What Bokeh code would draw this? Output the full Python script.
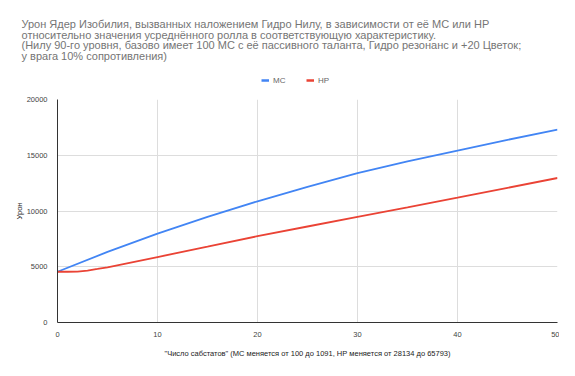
from bokeh.plotting import figure
from bokeh.layouts import column
from bokeh.models import Range1d, Legend, LegendItem, FixedTicker, Label
from bokeh.embed import file_html
from bokeh.resources import INLINE

# Data
mc_x = [0, 5, 10, 15, 20, 25, 30, 35, 40, 45, 50]
mc_y = [4550, 6330, 7970, 9480, 10870, 12170, 13390, 14450, 15420, 16380, 17300]

hp_x = [0, 1, 2, 3, 4, 5, 10, 15, 20, 25, 30, 35, 40, 45, 50]
hp_y = [4550, 4550, 4560, 4660, 4800, 4950, 5870, 6800, 7740, 8610, 9480, 10330, 11200, 12080, 12960]

x_ticks = [0, 10, 20, 30, 40, 50]
y_ticks = [0, 5000, 10000, 15000, 20000]

title_lines = [
    "Урон Ядер Изобилия, вызванных наложением Гидро Нилу, в зависимости от её МС или НР",
    "относительно значения усреднённого ролла в соответствующую характеристику.",
    "(Нилу 90-го уровня, базово имеет 100 МС с её пассивного таланта, Гидро резонанс и +20 Цветок;",
    "у врага 10% сопротивления)",
]
x_label = "\"Число сабстатов\" (МС меняется от 100 до 1091, НР меняется от 28134 до 65793)"
y_label = "Урон"
series_names = ["MC", "HP"]
colors = ["#4285F4", "#EA4335"]

FONT = "Liberation Sans"
W = 559
TOP_H = 93
MAIN_H = 267

# ---- header figure: title + legend ----
head = figure(width=W, height=TOP_H, output_backend="svg", toolbar_location=None,
              x_range=Range1d(0, W), y_range=Range1d(0, TOP_H),
              min_border=0, min_border_left=0, min_border_right=0,
              min_border_top=0, min_border_bottom=0, frame_align=False)
head.axis.visible = False
head.grid.visible = False
head.outline_line_color = None
head.background_fill_color = "white"
head.border_fill_color = "white"

for i, t in enumerate(title_lines):
    head.add_layout(Label(x=21, y=69.5 - 10.5 * i, x_units="screen", y_units="screen",
                          text=t, text_font=FONT, text_font_size="11px",
                          text_color="#757575", text_baseline="middle", text_align="left"))

# legend glyph sources (series data lies outside this header's range, so only the legend shows)
leg_r = [head.line(mc_x, mc_y, line_color=colors[0], line_width=2.5),
         head.line(hp_x, hp_y, line_color=colors[1], line_width=2.5)]
legend = Legend(items=[LegendItem(label=n, renderers=[r]) for n, r in zip(series_names, leg_r)],
                orientation="horizontal", location=(261, 8),
                glyph_width=8, glyph_height=10, label_height=10,
                label_standoff=4, spacing=13, padding=0, margin=0,
                border_line_color=None, background_fill_alpha=0,
                label_text_font=FONT, label_text_font_size="8px",
                label_text_color="#666666")
head.add_layout(legend, "center")

# ---- main chart ----
p = figure(width=W, height=MAIN_H, output_backend="svg", toolbar_location=None,
           x_range=Range1d(0, 50), y_range=Range1d(0, 20000),
           min_border_left=57, min_border_right=2, min_border_top=6, min_border_bottom=31,
           frame_align=False)
p.outline_line_color = None
p.background_fill_color = "white"
p.border_fill_color = "white"

p.line(mc_x, mc_y, line_color=colors[0], line_width=1.8)
p.line(hp_x, hp_y, line_color=colors[1], line_width=1.8)

for ax in (p.xaxis[0], p.yaxis[0]):
    ax.major_tick_line_color = None
    ax.minor_tick_line_color = None
    ax.axis_line_color = "#333333"
    ax.axis_line_width = 1
    ax.major_label_text_font = FONT
    ax.major_label_text_font_size = "7.5px"
    ax.major_label_text_color = "#444444"
    ax.axis_label_text_font = FONT
    ax.axis_label_text_font_size = "7.5px"
    ax.axis_label_text_font_style = "normal"
    ax.axis_label_text_color = "#222222"

p.xaxis.ticker = FixedTicker(ticks=x_ticks)
p.yaxis.ticker = FixedTicker(ticks=y_ticks)
p.xaxis.axis_label = x_label
p.yaxis.axis_label = y_label
p.xaxis.major_label_standoff = 3
p.yaxis.major_label_standoff = 4
p.xaxis.axis_label_standoff = 9
p.yaxis.axis_label_standoff = 0

p.xgrid.grid_line_color = "#dddddd"
p.ygrid.grid_line_color = "#dddddd"
p.xgrid.ticker = FixedTicker(ticks=x_ticks)
p.ygrid.ticker = FixedTicker(ticks=y_ticks)

layout = column(head, p, spacing=0)
open("out.html", "w").write(file_html(layout, INLINE))
